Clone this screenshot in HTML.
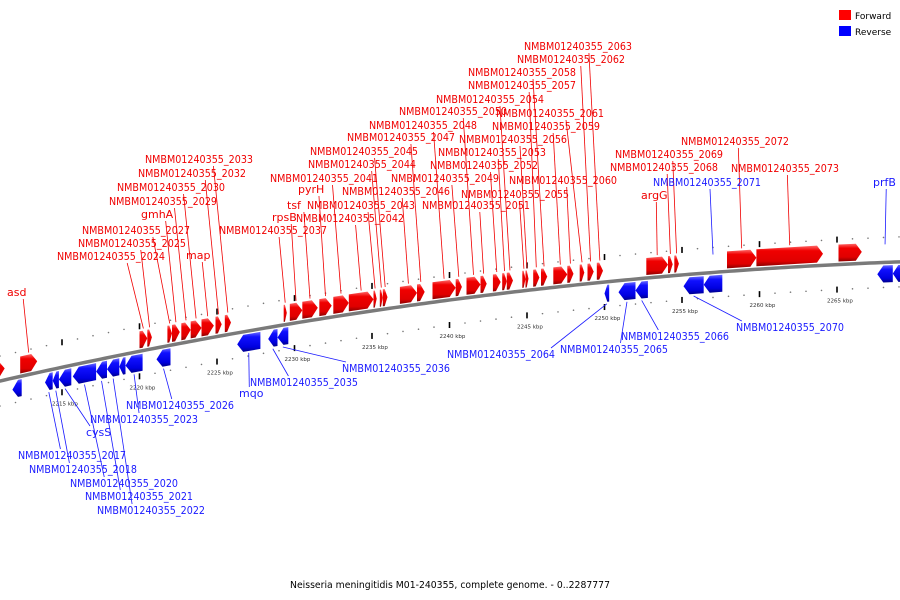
<!DOCTYPE html>
<html><head><meta charset="utf-8"><style>
html,body{margin:0;padding:0;background:#fff;}
svg{display:block;font-family:"DejaVu Sans","Liberation Sans",sans-serif;}
</style></head><body>
<svg id="chart" width="900" height="600" viewBox="0 0 900 600">
<defs>
<linearGradient id="gr" x1="0" y1="0" x2="0" y2="1"><stop offset="0" stop-color="#ff6a6a"/><stop offset="0.25" stop-color="#f00000"/><stop offset="0.75" stop-color="#e00000"/><stop offset="1" stop-color="#8a0000"/></linearGradient>
<linearGradient id="gb" x1="0" y1="0" x2="0" y2="1"><stop offset="0" stop-color="#6a6aff"/><stop offset="0.25" stop-color="#1010ff"/><stop offset="0.75" stop-color="#0000e0"/><stop offset="1" stop-color="#00008a"/></linearGradient>
</defs>
<g id="ticks"></g>
<path id="backbone" fill="none" stroke="#7a7a7a" stroke-width="3.5"/>
<g id="genes"></g>
<g id="labels"></g>
<g>
<rect x="839" y="10" width="12" height="10" fill="#f00"/>
<text x="855" y="19" font-size="9" fill="#000">Forward</text>
<rect x="839" y="26" width="12" height="10" fill="#00f"/>
<text x="855" y="35" font-size="9" fill="#000">Reverse</text>
</g>
<text x="290" y="588" font-size="10" textLength="320" lengthAdjust="spacingAndGlyphs" fill="#000">Neisseria meningitidis M01-240355, complete genome. - 0..2287777</text>
</svg>
<script>
// forward genes (kbp)
const fwdStart=[2210.6,2212.3,2220.0,2220.5,2221.8,2222.1,2222.7,2223.3,2224.0,2224.9,2225.5,2229.3,2229.7,2230.5,2231.6,2232.5,2233.5,2235.1,2235.5,2235.7,2236.8,2237.9,2238.9,2240.4,2241.1,2242.0,2242.8,2243.4,2243.7,2244.7,2244.9,2245.4,2245.9,2246.7,2247.6,2248.4,2248.9,2249.5,2252.7,2254.1,2254.5,2257.9,2259.8,2265.1];
const fwdEnd=[2211.3,2213.4,2220.5,2220.8,2222.1,2222.6,2223.3,2224.0,2224.8,2225.3,2225.9,2229.5,2230.5,2231.5,2232.4,2233.5,2235.1,2235.3,2235.7,2236.0,2237.9,2238.4,2240.4,2240.8,2242.0,2242.4,2243.3,2243.7,2244.1,2244.9,2245.1,2245.8,2246.3,2247.6,2248.0,2248.7,2249.3,2249.9,2254.1,2254.4,2254.8,2259.8,2264.1,2266.6];
const fwdLabel=["","asd","NMBM01240355_2024","NMBM01240355_2025","NMBM01240355_2027","gmhA","NMBM01240355_2029","NMBM01240355_2030","map","NMBM01240355_2032","NMBM01240355_2033","NMBM01240355_2037","rpsB","tsf","pyrH","NMBM01240355_2041","NMBM01240355_2042","NMBM01240355_2043","NMBM01240355_2044","NMBM01240355_2045","NMBM01240355_2046","NMBM01240355_2047","NMBM01240355_2048","NMBM01240355_2049","NMBM01240355_2050","NMBM01240355_2051","NMBM01240355_2052","NMBM01240355_2053","NMBM01240355_2054","NMBM01240355_2055","NMBM01240355_2056","NMBM01240355_2057","NMBM01240355_2058","NMBM01240355_2059","NMBM01240355_2060","NMBM01240355_2061","NMBM01240355_2062","NMBM01240355_2063","argG","NMBM01240355_2068","NMBM01240355_2069","NMBM01240355_2072","NMBM01240355_2073",""];
const fwdLabelPos=[null,[7,296],[57,260],[78,247],[82,234],[141,218],[109,205],[117,191],[186,259],[138,177],[145,163],[219,234],[272,221],[287,209],[298,193],[270,182],[296,222],[307,209],[308,168],[310,155],[342,195],[347,141],[369,129],[391,182],[399,115],[422,209],[430,169],[438,156],[436,103],[461,198],[459,143],[468,89],[468,76],[492,130],[509,184],[496,117],[517,63],[524,50],[641,199],[610,171],[615,158],[681,145],[731,172],null];
// reverse genes (kbp)
const revStart=[2211.8,2213.9,2214.4,2214.8,2215.7,2217.2,2217.9,2218.7,2219.1,2221.1,2226.3,2228.3,2228.9,2250.0,2250.9,2252.0,2255.1,2256.4,2267.6,2268.6];
const revEnd=[2212.4,2214.4,2214.8,2215.6,2217.2,2217.9,2218.7,2219.1,2220.2,2222.0,2227.8,2228.9,2229.6,2250.3,2252.0,2252.8,2256.4,2257.6,2268.6,2269.2];
const revLabel=["","NMBM01240355_2017","NMBM01240355_2018","cysS","NMBM01240355_2020","NMBM01240355_2021","NMBM01240355_2022","","NMBM01240355_2023","NMBM01240355_2026","mqo","NMBM01240355_2035","NMBM01240355_2036","NMBM01240355_2064","NMBM01240355_2065","NMBM01240355_2066","NMBM01240355_2070","NMBM01240355_2071","prfB",""];
const revLabelPos=[null,[18,459],[29,473],[86,436],[70,487],[85,500],[97,514],null,[90,423],[126,409],[239,397],[250,386],[342,372],[447,358],[560,353],[621,340],[736,331],[653,186],[873,186],null];
const tickKbp=[2215,2220,2225,2230,2235,2240,2245,2250,2255,2260,2265];

const NS="http://www.w3.org/2000/svg";
const px=k=>(k-2211)*15.5;
const cy=x=>381-0.2278*x+0.000106*x*x;
function mk(tag,attrs,parent){const e=document.createElementNS(NS,tag);for(const k in attrs)e.setAttribute(k,attrs[k]);parent.appendChild(e);return e;}

let d="";for(let x=-5;x<=905;x+=5){d+=(x===-5?"M":"L")+x+","+cy(x).toFixed(2);}
document.getElementById("backbone").setAttribute("d",d);

const tg=document.getElementById("ticks");
for(let k=2210;k<=2270;k++){
  const x=px(k);if(x<0||x>900)continue;
  const major=k%5===0;
  [-25,25].forEach(o=>{
    const y=cy(x)+o;
    if(major){const t=mk("rect",{x:x-0.8,y:y-3,width:1.6,height:6,fill:"#000"},tg);
      
      }
    else{const c=mk("circle",{cx:x,cy:y,r:0.8,fill:"#777"},tg);
      
      }
  });
}
tickKbp.forEach(k=>{const x=px(k);const t=mk("text",{x:x-10,y:cy(x)+38,"font-size":5.5,fill:"#333"},tg);t.textContent=k+" kbp";
  
  });

const gg=document.getElementById("genes"),lg=document.getElementById("labels");
function gene(s,e,fwd){
  const x1=px(s),x2=px(e);const len=x2-x1;const h=Math.min(6,len*0.6);
  const y1=cy(x1),y2=cy(x2);let pts;
  if(fwd){const a=-20,b=-3;pts=[[x1,y1+a],[x2-h,cy(x2-h)+a],[x2,y2+(a+b)/2],[x2-h,cy(x2-h)+b],[x1,y1+b]];}
  else{const a=3,b=20;pts=[[x2,y2+a],[x1+h,cy(x1+h)+a],[x1,y1+(a+b)/2],[x1+h,cy(x1+h)+b],[x2,y2+b]];}
  const p=mk("polygon",{points:pts.map(q=>q[0].toFixed(1)+","+q[1].toFixed(1)).join(" "),fill:fwd?"url(#gr)":"url(#gb)"},gg);
  
  
  return (x1+x2)/2;
}
function label(txt,pos,gx,fwd,above){
  const col=fwd?"#f00000":"#1a1aff";
  const long=txt.startsWith("NMBM");
  const w=long?108:txt.length*7.2;
  const attrs={x:pos[0],y:pos[1],"font-size":11,fill:col};
  if(long){attrs.textLength=w;attrs.lengthAdjust="spacingAndGlyphs";}
  const t=mk("text",attrs,lg);
  t.textContent=txt;
  
  
  const c=pos[0]+w/2;
  const lx=Math.max(pos[0]+4,Math.min(pos[0]+w-4,c+(gx-c)*0.5));
  let ly,gy;
  if(above){ly=pos[1]+3;gy=fwd?cy(gx)-22:cy(gx)-18;}
  else{ly=pos[1]-10;gy=cy(gx)+22;}
  const l=mk("line",{x1:lx,y1:ly,x2:gx,y2:gy,stroke:col,"stroke-width":0.8},lg);
  
  
}
fwdStart.forEach((s,i)=>{const gx=gene(s,fwdEnd[i],true);if(fwdLabel[i])label(fwdLabel[i],fwdLabelPos[i],gx,true,true);});
revStart.forEach((s,i)=>{const gx=gene(s,revEnd[i],false);if(revLabel[i]){const p=revLabelPos[i];label(revLabel[i],p,gx,false,p[1]<cy(gx));}});
</script>
</body></html>
